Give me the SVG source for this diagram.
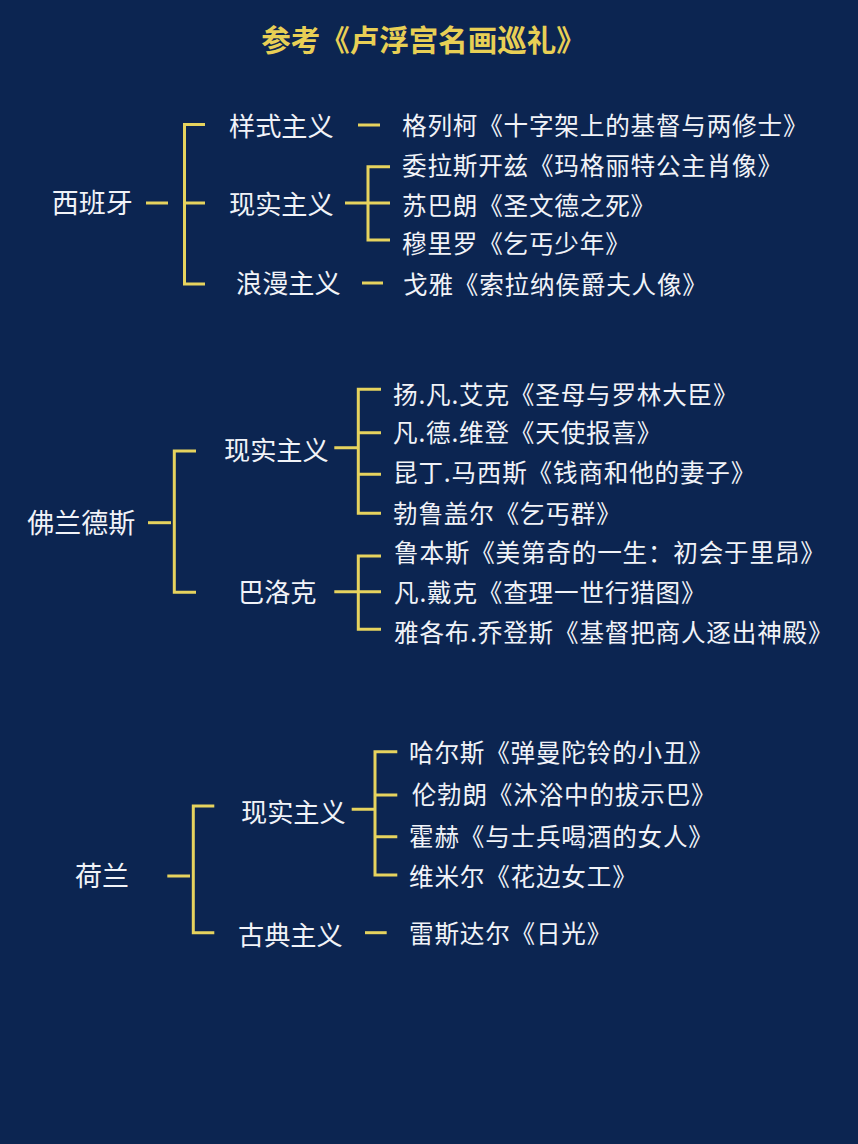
<svg xmlns="http://www.w3.org/2000/svg" width="858" height="1144" viewBox="0 0 858 1144">
<style>
text{font-family:"Noto Sans CJK SC","Noto Sans",sans-serif;fill:#f1f3f8;font-weight:normal}
.title{font-size:29.5px;fill:#e8cf55;font-weight:bold}
.l1{font-size:27px}
.l2{font-size:26.2px}
.lf{font-size:24.6px;letter-spacing:0.8px}
.c{fill:none;stroke:#e6d35e;stroke-width:3}
</style>
<rect width="858" height="1144" fill="#0c2551"/>
<g id="title"><text class="title" x="423.5" y="50.5" text-anchor="middle">参考《卢浮宫名画巡礼》</text></g>

<g id="connectors">
<!-- Spain -->
<path class="c" d="M146,203H168"/>
<path class="c" d="M205,124.5H184.5V284H205M184.5,203H205"/>
<path class="c" d="M358,125H380"/>
<path class="c" d="M345,203H368M390,166.7H368V240H390M368,203H390"/>
<path class="c" d="M362,283H383"/>
<!-- Flanders -->
<path class="c" d="M148,522.7H171"/>
<path class="c" d="M196,451H174.3V592.3H196"/>
<path class="c" d="M334.3,447.7H358.3M381,389.3H358.3V513.3H381M358.3,432.7H381M358.3,474.3H381"/>
<path class="c" d="M334.3,591.7H358.3M381,556H358.3V629.3H381M358.3,591.7H381"/>
<!-- Netherlands -->
<path class="c" d="M167.3,876H190"/>
<path class="c" d="M214.3,806H193.3V932.7H214.3"/>
<path class="c" d="M351.7,809.3H375M397.3,751.7H375V875H397.3M375,795H397.3M375,836.7H397.3"/>
<path class="c" d="M365,932.7H386.7"/>
</g>

<g id="spain"><text class="l1" x="51.7" y="212.5">西班牙</text></g>
<g id="spain-mannerism"><text class="l2" x="229" y="135.5">样式主义</text></g>
<g id="spain-realism"><text class="l2" x="229" y="213.5">现实主义</text></g>
<g id="spain-romanticism"><text class="l2" x="236" y="292.5">浪漫主义</text></g>
<g id="greco"><text class="lf" x="402" y="135">格列柯《十字架上的基督与两修士》</text></g>
<g id="velazquez"><text class="lf" x="402" y="175">委拉斯开兹《玛格丽特公主肖像》</text></g>
<g id="zurbaran"><text class="lf" x="402" y="215">苏巴朗《圣文德之死》</text></g>
<g id="murillo"><text class="lf" x="402" y="253">穆里罗《乞丐少年》</text></g>
<g id="goya"><text class="lf" x="403" y="294">戈雅《索拉纳侯爵夫人像》</text></g>

<g id="flanders"><text class="l1" x="27.3" y="532.5">佛兰德斯</text></g>
<g id="flanders-realism"><text class="l2" x="224" y="459.5">现实主义</text></g>
<g id="flanders-baroque"><text class="l2" x="238" y="602">巴洛克</text></g>
<g id="vaneyck"><text class="lf" x="393" y="404">扬.凡.艾克《圣母与罗林大臣》</text></g>
<g id="vanderweyden"><text class="lf" x="393" y="442.3">凡.德.维登《天使报喜》</text></g>
<g id="massys"><text class="lf" x="393" y="482.3">昆丁.马西斯《钱商和他的妻子》</text></g>
<g id="bruegel"><text class="lf" x="393" y="523">勃鲁盖尔《乞丐群》</text></g>
<g id="rubens"><text class="lf" x="394" y="561.7">鲁本斯《美第奇的一生：初会于里昂》</text></g>
<g id="vandyck"><text class="lf" x="394" y="601.7">凡.戴克《查理一世行猎图》</text></g>
<g id="jordaens"><text class="lf" x="394" y="642.3">雅各布.乔登斯《基督把商人逐出神殿》</text></g>

<g id="netherlands"><text class="l1" x="75" y="886">荷兰</text></g>
<g id="nl-realism"><text class="l2" x="241" y="822">现实主义</text></g>
<g id="nl-classicism"><text class="l2" x="238" y="944.5">古典主义</text></g>
<g id="hals"><text class="lf" x="409" y="761.7">哈尔斯《弹曼陀铃的小丑》</text></g>
<g id="rembrandt"><text class="lf" x="411.7" y="804">伦勃朗《沐浴中的拔示巴》</text></g>
<g id="hooch"><text class="lf" x="409" y="846.3">霍赫《与士兵喝酒的女人》</text></g>
<g id="vermeer"><text class="lf" x="409" y="886">维米尔《花边女工》</text></g>
<g id="ruisdael"><text class="lf" x="409" y="943">雷斯达尔《日光》</text></g>
</svg>
